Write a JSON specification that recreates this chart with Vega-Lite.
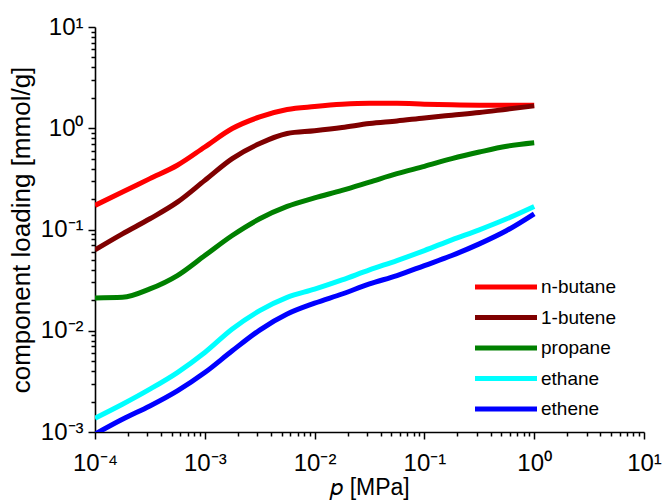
{
  "$schema": "https://vega.github.io/schema/vega-lite/v6.json",
  "width": 549,
  "height": 405,
  "autosize": {"type": "none"},
  "padding": {"left": 95, "top": 27, "right": 19, "bottom": 70},
  "background": "white",
  "config": {
    "view": {"stroke": null},
    "font": "Liberation Sans",
    "axis": {
      "grid": false,
      "domainColor": "black",
      "domainWidth": 1.6,
      "tickColor": "black",
      "tickWidth": 1.5,
      "labelFont": "Liberation Sans",
      "labelFontSize": 24,
      "labelColor": "black",
      "labelOverlap": false,
      "labelFlush": false,
      "titleFont": "Liberation Sans",
      "titleFontWeight": "normal",
      "titleColor": "black"
    }
  },
  "data": {
    "values": [
      {"p": 0.0001, "q": 0.173, "c": "n-butane"},
      {"p": 0.0001778, "q": 0.234, "c": "n-butane"},
      {"p": 0.0003162, "q": 0.318, "c": "n-butane"},
      {"p": 0.0005623, "q": 0.431, "c": "n-butane"},
      {"p": 0.001, "q": 0.653, "c": "n-butane"},
      {"p": 0.001778, "q": 0.993, "c": "n-butane"},
      {"p": 0.003162, "q": 1.294, "c": "n-butane"},
      {"p": 0.005623, "q": 1.531, "c": "n-butane"},
      {"p": 0.01, "q": 1.637, "c": "n-butane"},
      {"p": 0.01778, "q": 1.722, "c": "n-butane"},
      {"p": 0.03162, "q": 1.762, "c": "n-butane"},
      {"p": 0.05623, "q": 1.762, "c": "n-butane"},
      {"p": 0.1, "q": 1.73, "c": "n-butane"},
      {"p": 0.1778, "q": 1.702, "c": "n-butane"},
      {"p": 0.3162, "q": 1.69, "c": "n-butane"},
      {"p": 0.5623, "q": 1.69, "c": "n-butane"},
      {"p": 1, "q": 1.69, "c": "n-butane"},

      {"p": 0.0001, "q": 0.063, "c": "1-butene"},
      {"p": 0.0001778, "q": 0.0906, "c": "1-butene"},
      {"p": 0.0003162, "q": 0.1276, "c": "1-butene"},
      {"p": 0.0005623, "q": 0.1862, "c": "1-butene"},
      {"p": 0.001, "q": 0.3055, "c": "1-butene"},
      {"p": 0.001778, "q": 0.5012, "c": "1-butene"},
      {"p": 0.003162, "q": 0.7063, "c": "1-butene"},
      {"p": 0.005623, "q": 0.8872, "c": "1-butene"},
      {"p": 0.01, "q": 0.9441, "c": "1-butene"},
      {"p": 0.01778, "q": 1.016, "c": "1-butene"},
      {"p": 0.03162, "q": 1.114, "c": "1-butene"},
      {"p": 0.05623, "q": 1.18, "c": "1-butene"},
      {"p": 0.1, "q": 1.265, "c": "1-butene"},
      {"p": 0.1778, "q": 1.346, "c": "1-butene"},
      {"p": 0.3162, "q": 1.429, "c": "1-butene"},
      {"p": 0.5623, "q": 1.542, "c": "1-butene"},
      {"p": 1, "q": 1.663, "c": "1-butene"},

      {"p": 0.0001, "q": 0.02109, "c": "propane"},
      {"p": 0.0001778, "q": 0.02138, "c": "propane"},
      {"p": 0.0003162, "q": 0.02588, "c": "propane"},
      {"p": 0.0005623, "q": 0.03508, "c": "propane"},
      {"p": 0.001, "q": 0.05534, "c": "propane"},
      {"p": 0.001778, "q": 0.0873, "c": "propane"},
      {"p": 0.003162, "q": 0.1276, "c": "propane"},
      {"p": 0.005623, "q": 0.169, "c": "propane"},
      {"p": 0.01, "q": 0.2051, "c": "propane"},
      {"p": 0.01778, "q": 0.2432, "c": "propane"},
      {"p": 0.03162, "q": 0.2938, "c": "propane"},
      {"p": 0.05623, "q": 0.3556, "c": "propane"},
      {"p": 0.1, "q": 0.4207, "c": "propane"},
      {"p": 0.1778, "q": 0.5012, "c": "propane"},
      {"p": 0.3162, "q": 0.5821, "c": "propane"},
      {"p": 0.5623, "q": 0.6637, "c": "propane"},
      {"p": 1, "q": 0.7178, "c": "propane"},

      {"p": 0.0001, "q": 0.001368, "c": "ethane"},
      {"p": 0.0001778, "q": 0.001879, "c": "ethane"},
      {"p": 0.0003162, "q": 0.002649, "c": "ethane"},
      {"p": 0.0005623, "q": 0.003864, "c": "ethane"},
      {"p": 0.001, "q": 0.006095, "c": "ethane"},
      {"p": 0.001778, "q": 0.0104, "c": "ethane"},
      {"p": 0.003162, "q": 0.01578, "c": "ethane"},
      {"p": 0.005623, "q": 0.02138, "c": "ethane"},
      {"p": 0.01, "q": 0.02576, "c": "ethane"},
      {"p": 0.01778, "q": 0.03177, "c": "ethane"},
      {"p": 0.03162, "q": 0.0399, "c": "ethane"},
      {"p": 0.05623, "q": 0.04932, "c": "ethane"},
      {"p": 0.1, "q": 0.06194, "c": "ethane"},
      {"p": 0.1778, "q": 0.07907, "c": "ethane"},
      {"p": 0.3162, "q": 0.09931, "c": "ethane"},
      {"p": 0.5623, "q": 0.1276, "c": "ethane"},
      {"p": 1, "q": 0.169, "c": "ethane"},

      {"p": 0.0001, "q": 0.000955, "c": "ethene"},
      {"p": 0.0001778, "q": 0.001337, "c": "ethene"},
      {"p": 0.0003162, "q": 0.001807, "c": "ethene"},
      {"p": 0.0005623, "q": 0.002547, "c": "ethene"},
      {"p": 0.001, "q": 0.003864, "c": "ethene"},
      {"p": 0.001778, "q": 0.006339, "c": "ethene"},
      {"p": 0.003162, "q": 0.01016, "c": "ethene"},
      {"p": 0.005623, "q": 0.01462, "c": "ethene"},
      {"p": 0.01, "q": 0.01871, "c": "ethene"},
      {"p": 0.01778, "q": 0.02307, "c": "ethene"},
      {"p": 0.03162, "q": 0.02897, "c": "ethene"},
      {"p": 0.05623, "q": 0.03508, "c": "ethene"},
      {"p": 0.1, "q": 0.04406, "c": "ethene"},
      {"p": 0.1778, "q": 0.05534, "c": "ethene"},
      {"p": 0.3162, "q": 0.07211, "c": "ethene"},
      {"p": 0.5623, "q": 0.09772, "c": "ethene"},
      {"p": 1, "q": 0.1429, "c": "ethene"}
    ]
  },
  "mark": {"type": "line", "strokeWidth": 5, "interpolate": "monotone", "clip": true},
  "encoding": {
    "x": {
      "field": "p",
      "type": "quantitative",
      "scale": {"type": "log", "domain": [0.0001, 10], "nice": false},
      "axis": {
        "title": "𝑝 [MPa]",
        "titleFontSize": 23,
        "titlePadding": 1,
        "labelPadding": 12,
        "values": [0.0001, 0.0002, 0.0003, 0.0004, 0.0005, 0.0006, 0.0007, 0.0008, 0.0009,
                   0.001, 0.002, 0.003, 0.004, 0.005, 0.006, 0.007, 0.008, 0.009,
                   0.01, 0.02, 0.03, 0.04, 0.05, 0.06, 0.07, 0.08, 0.09,
                   0.1, 0.2, 0.3, 0.4, 0.5, 0.6, 0.7, 0.8, 0.9,
                   1, 2, 3, 4, 5, 6, 7, 8, 9, 10],
        "tickSize": {"condition": {"test": "abs(log(datum.value)/LN10 - round(log(datum.value)/LN10)) < 0.001", "value": 7}, "value": 4},
        "labelExpr": "abs(log(datum.value)/LN10 - round(log(datum.value)/LN10)) > 0.001 ? '' : (round(log(datum.value)/LN10) == -4 ? '10⁻⁴' : round(log(datum.value)/LN10) == -3 ? '10⁻³' : round(log(datum.value)/LN10) == -2 ? '10⁻²' : round(log(datum.value)/LN10) == -1 ? '10⁻¹' : round(log(datum.value)/LN10) == 0 ? '10⁰' : '10¹')"
      }
    },
    "y": {
      "field": "q",
      "type": "quantitative",
      "scale": {"type": "log", "domain": [0.001, 10], "nice": false},
      "axis": {
        "title": "component loading [mmol/g]",
        "titleFontSize": 26,
        "titlePadding": 6,
        "labelPadding": 5,
        "values": [0.001, 0.002, 0.003, 0.004, 0.005, 0.006, 0.007, 0.008, 0.009,
                   0.01, 0.02, 0.03, 0.04, 0.05, 0.06, 0.07, 0.08, 0.09,
                   0.1, 0.2, 0.3, 0.4, 0.5, 0.6, 0.7, 0.8, 0.9,
                   1, 2, 3, 4, 5, 6, 7, 8, 9, 10],
        "tickSize": {"condition": {"test": "abs(log(datum.value)/LN10 - round(log(datum.value)/LN10)) < 0.001", "value": 7}, "value": 4},
        "labelExpr": "abs(log(datum.value)/LN10 - round(log(datum.value)/LN10)) > 0.001 ? '' : (round(log(datum.value)/LN10) == -3 ? '10⁻³' : round(log(datum.value)/LN10) == -2 ? '10⁻²' : round(log(datum.value)/LN10) == -1 ? '10⁻¹' : round(log(datum.value)/LN10) == 0 ? '10⁰' : '10¹')"
      }
    },
    "color": {
      "field": "c",
      "type": "nominal",
      "scale": {
        "domain": ["n-butane", "1-butene", "propane", "ethane", "ethene"],
        "range": ["#ff0000", "#7f0000", "#008000", "#00ffff", "#0000ff"]
      },
      "legend": {
        "title": null,
        "orient": "none",
        "legendX": 393,
        "legendY": 242,
        "padding": 0,
        "symbolType": "M-2,0H2",
        "symbolSize": 961,
        "symbolStrokeWidth": 5,
        "labelFont": "Liberation Sans",
        "labelFontSize": 19,
        "labelColor": "black",
        "labelOffset": 17,
        "rowPadding": 2.5
      }
    }
  }
}
